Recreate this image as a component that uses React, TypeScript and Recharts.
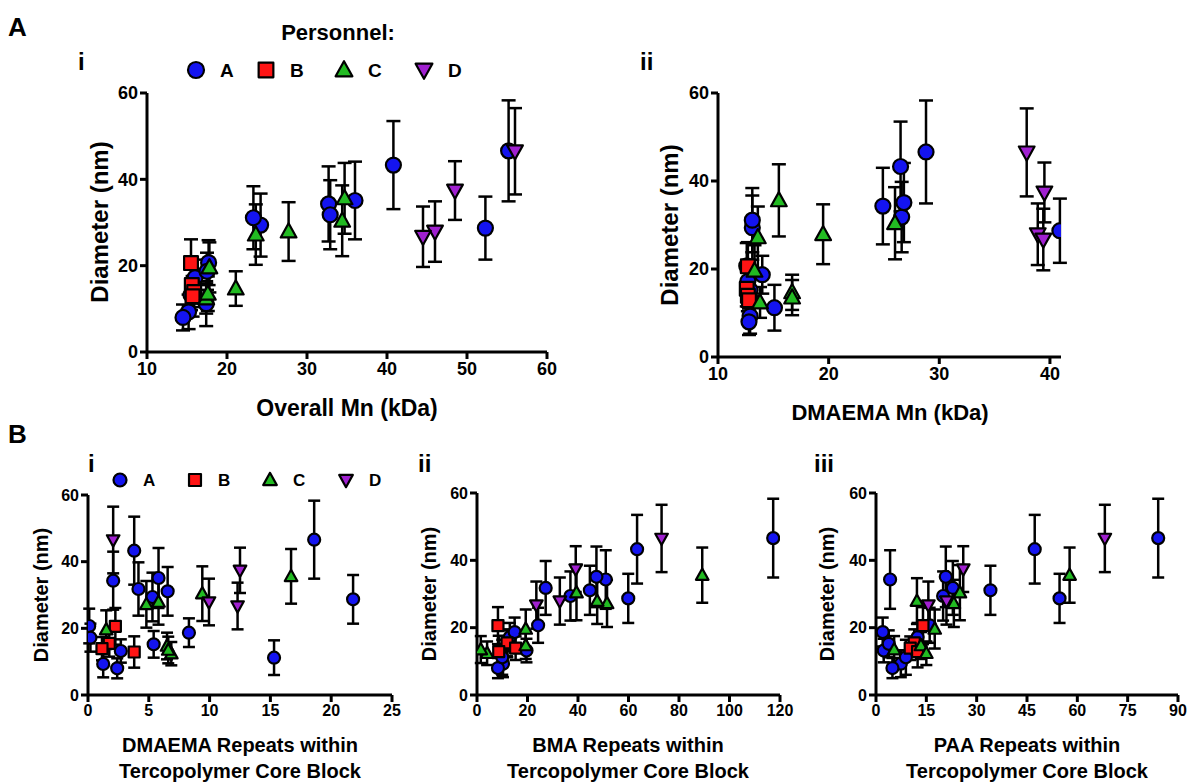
import React from 'react';
import { ScatterChart, Scatter, XAxis, YAxis, ErrorBar } from 'recharts';

type Row = { dia: number; err: number; mn: number; dmMn: number; dmRep: number; bmaRep: number; paaRep: number };

// Personnel A (blue circles)
const personnelA: Row[] = [
  { dia: 20.7, err: 5.2, mn: 17.7, dmMn: 12.6, dmRep: 0.1, bmaRep: 24.2, paaRep: 16.0 },
  { dia: 17.2, err: 4.2, mn: 16.0, dmMn: 12.7, dmRep: 0.2, bmaRep: 13.0, paaRep: 12.4 },
  { dia: 9.3, err: 4.0, mn: 15.2, dmMn: 12.9, dmRep: 1.25, bmaRep: 10.3, paaRep: 7.4 },
  { dia: 34.3, err: 8.7, mn: 32.7, dmMn: 24.9, dmRep: 2.07, bmaRep: 51.0, paaRep: 4.2 },
  { dia: 8.0, err: 3.0, mn: 14.5, dmMn: 12.8, dmRep: 2.4, bmaRep: 8.3, paaRep: 4.9 },
  { dia: 13.2, err: 3.5, mn: 15.5, dmMn: 12.8, dmRep: 2.7, bmaRep: 19.6, paaRep: 2.3 },
  { dia: 43.3, err: 10.2, mn: 40.8, dmMn: 26.5, dmRep: 3.8, bmaRep: 63.4, paaRep: 47.3 },
  { dia: 31.8, err: 8.0, mn: 32.9, dmMn: 26.6, dmRep: 4.15, bmaRep: 27.2, paaRep: 22.9 },
  { dia: 29.4, err: 7.3, mn: 24.2, dmMn: 13.1, dmRep: 5.3, bmaRep: 37.0, paaRep: 20.0 },
  { dia: 15.2, err: 4.0, mn: 15.8, dmMn: 12.9, dmRep: 5.4, bmaRep: 12.0, paaRep: 3.8 },
  { dia: 35.1, err: 9.0, mn: 36.0, dmMn: 26.8, dmRep: 5.8, bmaRep: 47.3, paaRep: 20.8 },
  { dia: 31.1, err: 7.3, mn: 23.3, dmMn: 13.1, dmRep: 6.55, bmaRep: 44.7, paaRep: 34.1 },
  { dia: 18.7, err: 4.3, mn: 17.5, dmMn: 14.0, dmRep: 8.3, bmaRep: 14.9, paaRep: 2.0 },
  { dia: 11.2, err: 5.2, mn: 17.4, dmMn: 15.1, dmRep: 15.3, bmaRep: 10.0, paaRep: 8.9 },
  { dia: 46.6, err: 11.7, mn: 55.2, dmMn: 28.8, dmRep: 18.6, bmaRep: 117.3, paaRep: 84.1 },
  { dia: 28.7, err: 7.3, mn: 52.3, dmMn: 40.9, dmRep: 21.8, bmaRep: 59.9, paaRep: 54.7 },
];

// Personnel B (red squares)
const personnelB: Row[] = [
  { dia: 20.6, err: 5.5, mn: 15.5, dmMn: 12.7, dmRep: 2.25, bmaRep: 8.3, paaRep: 14.0 },
  { dia: 15.5, err: 4.0, mn: 15.6, dmMn: 12.6, dmRep: 1.75, bmaRep: 11.9, paaRep: 11.4 },
  { dia: 13.9, err: 3.5, mn: 15.9, dmMn: 12.7, dmRep: 1.15, bmaRep: 15.3, paaRep: 10.2 },
  { dia: 12.9, err: 4.7, mn: 15.7, dmMn: 12.8, dmRep: 3.8, bmaRep: 8.6, paaRep: 12.4 },
];

// Personnel C (green triangles)
const personnelC: Row[] = [
  { dia: 19.6, err: 5.8, mn: 17.8, dmMn: 13.3, dmRep: 1.5, bmaRep: 19.3, paaRep: 17.5 },
  { dia: 27.2, err: 7.0, mn: 23.6, dmMn: 13.6, dmRep: 4.8, bmaRep: 51.5, paaRep: 23.2 },
  { dia: 27.9, err: 6.8, mn: 27.7, dmMn: 19.5, dmRep: 5.8, bmaRep: 47.6, paaRep: 12.2 },
  { dia: 14.7, err: 4.0, mn: 21.1, dmMn: 16.7, dmRep: 6.5, bmaRep: 19.3, paaRep: 13.4 },
  { dia: 12.4, err: 3.5, mn: 17.4, dmMn: 13.8, dmRep: 6.85, bmaRep: 4.0, paaRep: 15.0 },
  { dia: 13.5, err: 4.0, mn: 17.6, dmMn: 16.7, dmRep: 6.6, bmaRep: 1.5, paaRep: 5.4 },
  { dia: 30.4, err: 8.2, mn: 34.4, dmMn: 26.0, dmRep: 9.4, bmaRep: 39.4, paaRep: 25.0 },
  { dia: 35.6, err: 8.2, mn: 34.7, dmMn: 15.5, dmRep: 16.7, bmaRep: 89.2, paaRep: 57.7 },
];

// Personnel D (purple inverted triangles)
const personnelD: Row[] = [
  { dia: 46.5, err: 10.0, mn: 56.0, dmMn: 37.9, dmRep: 2.07, bmaRep: 73.1, paaRep: 68.2 },
  { dia: 27.9, err: 7.0, mn: 46.0, dmMn: 38.9, dmRep: 9.95, bmaRep: 32.8, paaRep: 21.0 },
  { dia: 26.7, err: 7.0, mn: 44.5, dmMn: 39.4, dmRep: 12.3, bmaRep: 23.5, paaRep: 15.6 },
  { dia: 37.4, err: 6.8, mn: 48.5, dmMn: 39.5, dmRep: 12.5, bmaRep: 39.1, paaRep: 26.0 },
];

const personnelNames = ['A', 'B', 'C', 'D'];
const yTicks = [0, 20, 40, 60];
const overallMnTicks = [10, 20, 30, 40, 50, 60];
const dmaemaMnTicks = [10, 20, 30, 40];
const dmaemaRepTicks = [0, 5, 10, 15, 20, 25];
const bmaRepTicks = [0, 20, 40, 60, 80, 100, 120];
const paaRepTicks = [0, 15, 30, 45, 60, 75, 90];

const FONT = '"Liberation Sans", Arial, Helvetica, sans-serif';
const COLORS = ['#1414f0', '#ff1414', '#22bb22', '#a020d0'];
const KINDS = ['circle', 'square', 'up', 'down'];
const SERIES = [personnelA, personnelB, personnelC, personnelD];

function MarkerShape({ cx, cy, kind, r, color }: { cx: number; cy: number; kind: string; r: number; color: string }) {
  if (cx == null || cy == null) return null;
  const common = { fill: color, stroke: '#000', strokeWidth: 2.2, strokeLinejoin: 'round' as const };
  if (kind === 'circle') return <circle cx={cx} cy={cy} r={r} {...common} />;
  if (kind === 'square') {
    const s = r * 0.92;
    return <rect x={cx - s} y={cy - s} width={2 * s} height={2 * s} {...common} />;
  }
  const h = r * 1.05;
  if (kind === 'up') {
    return <polygon points={`${cx},${cy - h * 1.05} ${cx - h},${cy + h * 0.75} ${cx + h},${cy + h * 0.75}`} {...common} />;
  }
  return <polygon points={`${cx},${cy + h * 1.05} ${cx - h},${cy - h * 0.75} ${cx + h},${cy - h * 0.75}`} {...common} />;
}

type PanelProps = {
  xKey: keyof Row;
  domain: [number, number];
  ticks: number[];
  width: number;
  height: number;
  top: number;
  right: number;
  bottom: number;
  yWidth: number;
  xHeight: number;
  r: number;
  tickFont: number;
  capW: number;
};

function Panel(p: PanelProps) {
  const tickStyle = { fill: '#000', fontSize: p.tickFont, fontWeight: 700, fontFamily: FONT };
  return (
    <div style={{ position: 'absolute', left: 0, top: 0 }}>
      <ScatterChart width={p.width} height={p.height} margin={{ top: p.top, right: p.right, bottom: p.bottom, left: 0 }}>
        <XAxis
          type="number"
          dataKey="x"
          domain={p.domain}
          ticks={p.ticks}
          interval={0}
          allowDataOverflow
          height={p.xHeight}
          axisLine={{ stroke: '#000', strokeWidth: 3 }}
          tickLine={{ stroke: '#000', strokeWidth: 3 }}
          tickSize={7}
          tickMargin={3}
          tick={tickStyle}
        />
        <YAxis
          type="number"
          dataKey="y"
          domain={[0, 60]}
          ticks={yTicks}
          interval={0}
          allowDataOverflow
          width={p.yWidth}
          axisLine={{ stroke: '#000', strokeWidth: 3 }}
          tickLine={{ stroke: '#000', strokeWidth: 3 }}
          tickSize={7}
          tickMargin={2}
          tick={tickStyle}
        />
        {SERIES.map((rows, i) => (
          <Scatter
            key={personnelNames[i]}
            name={personnelNames[i]}
            data={rows.map((row) => ({ x: row[p.xKey], y: row.dia, e: row.err }))}
            isAnimationActive={false}
            shape={(props: any) => <MarkerShape cx={props.cx} cy={props.cy} kind={KINDS[i]} r={p.r} color={COLORS[i]} />}
          >
            <ErrorBar dataKey="e" direction="y" width={p.capW} stroke="#000" strokeWidth={2.5} />
          </Scatter>
        ))}
      </ScatterChart>
    </div>
  );
}

function LegendRow({ y, xs, r, fontSize, gap }: { y: number; xs: number[]; r: number; fontSize: number; gap: number }) {
  return (
    <g>
      {personnelNames.map((n, i) => (
        <g key={n}>
          <MarkerShape cx={xs[i]} cy={y} kind={KINDS[i]} r={r} color={COLORS[i]} />
          <text x={xs[i] + gap} y={y + fontSize * 0.36} fontSize={fontSize} fontWeight={700} fontFamily={FONT} fill="#000">
            {n}
          </text>
        </g>
      ))}
    </g>
  );
}

export default function App() {
  const t = { fontFamily: FONT, fontWeight: 700, fill: '#000' } as const;
  return (
    <div style={{ position: 'absolute', left: 0, top: 0, width: 1190, height: 783, background: '#fff', overflow: 'hidden' }}>
      {/* A-i Overall Mn */}
      <Panel xKey="mn" domain={[10, 60]} ticks={overallMnTicks} width={600} height={440} top={93} right={53} bottom={28} yWidth={147} xHeight={60} r={7.5} tickFont={18} capW={7} />
      {/* A-ii DMAEMA Mn */}
      <Panel xKey="dmMn" domain={[10, 41]} ticks={dmaemaMnTicks} width={1190} height={440} top={93} right={129} bottom={23} yWidth={718} xHeight={60} r={7.5} tickFont={18} capW={7} />
      {/* B-i DMAEMA repeats */}
      <Panel xKey="dmRep" domain={[0, 25]} ticks={dmaemaRepTicks} width={420} height={783} top={495} right={28} bottom={48} yWidth={88} xHeight={40} r={6} tickFont={16} capW={6} />
      {/* B-ii BMA repeats */}
      <Panel xKey="bmaRep" domain={[0, 120]} ticks={bmaRepTicks} width={820} height={783} top={493} right={40} bottom={48} yWidth={477} xHeight={40} r={6} tickFont={16} capW={6} />
      {/* B-iii PAA repeats */}
      <Panel xKey="paaRep" domain={[0, 90]} ticks={paaRepTicks} width={1190} height={783} top={493} right={12} bottom={48} yWidth={876} xHeight={40} r={6} tickFont={16} capW={6} />

      <svg width={1190} height={783} style={{ position: 'absolute', left: 0, top: 0, pointerEvents: 'none' }}>
        {/* panel letters */}
        <text x={8} y={36} fontSize={26} {...t}>A</text>
        <text x={8} y={443} fontSize={26} {...t}>B</text>
        <text x={78} y={70} fontSize={24} {...t}>i</text>
        <text x={640} y={70} fontSize={24} {...t}>ii</text>
        <text x={88} y={472} fontSize={24} {...t}>i</text>
        <text x={418} y={472} fontSize={24} {...t}>ii</text>
        <text x={814} y={472} fontSize={24} {...t}>iii</text>

        {/* legends */}
        <text x={338} y={40} fontSize={22} textAnchor="middle" {...t}>Personnel:</text>
        <LegendRow y={70} xs={[196, 266, 344, 424]} r={8} fontSize={19} gap={24} />
        <LegendRow y={480} xs={[120, 195, 270, 346]} r={6.5} fontSize={17} gap={23} />

        {/* axis titles */}
        <text x={347} y={416} fontSize={23} textAnchor="middle" {...t}>Overall Mn (kDa)</text>
        <text transform="translate(108,222) rotate(-90)" fontSize={24} textAnchor="middle" {...t}>Diameter (nm)</text>
        <text x={890} y={420} fontSize={22} textAnchor="middle" {...t}>DMAEMA Mn (kDa)</text>
        <text transform="translate(678,225) rotate(-90)" fontSize={24} textAnchor="middle" {...t}>Diameter (nm)</text>

        <text transform="translate(48,595) rotate(-90)" fontSize={20} textAnchor="middle" {...t}>Diameter (nm)</text>
        <text transform="translate(436,594) rotate(-90)" fontSize={20} textAnchor="middle" {...t}>Diameter (nm)</text>
        <text transform="translate(834,594) rotate(-90)" fontSize={20} textAnchor="middle" {...t}>Diameter (nm)</text>

        <text x={240} y={752} fontSize={20} textAnchor="middle" {...t}>DMAEMA Repeats within</text>
        <text x={240} y={778} fontSize={20} textAnchor="middle" {...t}>Tercopolymer Core Block</text>
        <text x={628} y={752} fontSize={20} textAnchor="middle" {...t}>BMA Repeats within</text>
        <text x={628} y={778} fontSize={20} textAnchor="middle" {...t}>Tercopolymer Core Block</text>
        <text x={1027} y={752} fontSize={20} textAnchor="middle" {...t}>PAA Repeats within</text>
        <text x={1027} y={778} fontSize={20} textAnchor="middle" {...t}>Tercopolymer Core Block</text>
      </svg>
    </div>
  );
}
